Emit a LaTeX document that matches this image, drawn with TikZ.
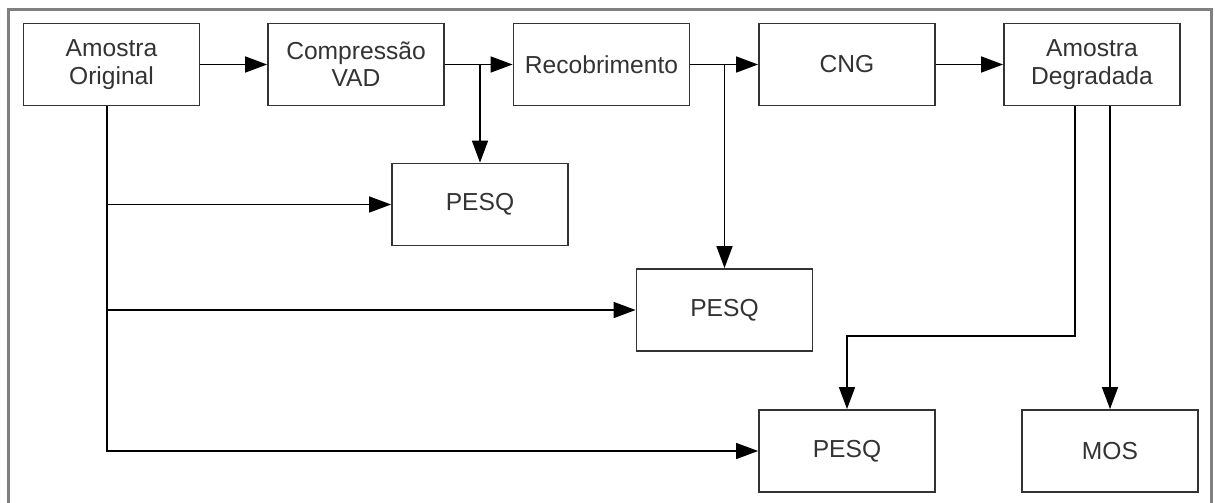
\documentclass[tikz,border=0pt]{standalone}
\usepackage{fontspec}
\setmainfont{Liberation Sans}
\usetikzlibrary{arrows.meta}
\begin{document}
\begin{tikzpicture}[x=0.5pt,y=-0.5pt,
  box/.style={draw=black!80,line width=0.9pt,minimum width=88pt,minimum height=41pt,
    inner sep=0pt,align=center,text=black!80,font=\fontsize{12.3}{13.6}\selectfont},
  arr/.style={line width=0.75pt,-{Triangle[length=11pt,width=8pt]}},
  ln/.style={line width=0.75pt},
  frame/.style={draw=black!50,line width=1.5pt}]
\useasboundingbox (0,0) rectangle (1215,503);
\draw[frame] (8,504) -- (8,9) -- (1211,9) -- (1211,504);
\node[box] (ao) at (111.5,64.5) {Amostra\\Original};
\node[box] (cv) at (356,64.5) {Compressão\\VAD};
\node[box] (rec) at (601.5,64.5) {Recobrimento};
\node[box] (cng) at (847,64.5) {CNG};
\node[box] (ad) at (1092,64.5) {Amostra\\Degradada};
\node[box] (p1) at (480,204.5) {PESQ};
\node[box] (p2) at (724.5,310) {PESQ};
\node[box] (p3) at (847,451) {PESQ};
\node[box] (mos) at (1110,451) {MOS};
\coordinate (v1) at (107,451);
\coordinate (k) at (1075,336);
\draw[arr] (ao) -- (cv);
\draw[arr] (cv) -- (rec);
\draw[arr] (rec) -- (cng);
\draw[arr] (cng) -- (ad);
\draw[arr] (p1.north |- cv.east) -- (p1.north);
\draw[arr] (p2.north |- rec.east) -- (p2.north);
\draw[arr] (ao.south -| v1) |- (p3.west);
\draw[arr] (p1.west -| v1) -- (p1.west);
\draw[arr] (p2.west -| v1) -- (p2.west);
\draw[arr] (ad.south -| k) -- (k) -| (p3.north);
\draw[arr] (ad.south -| mos.north) -- (mos.north);
\end{tikzpicture}
\end{document}
